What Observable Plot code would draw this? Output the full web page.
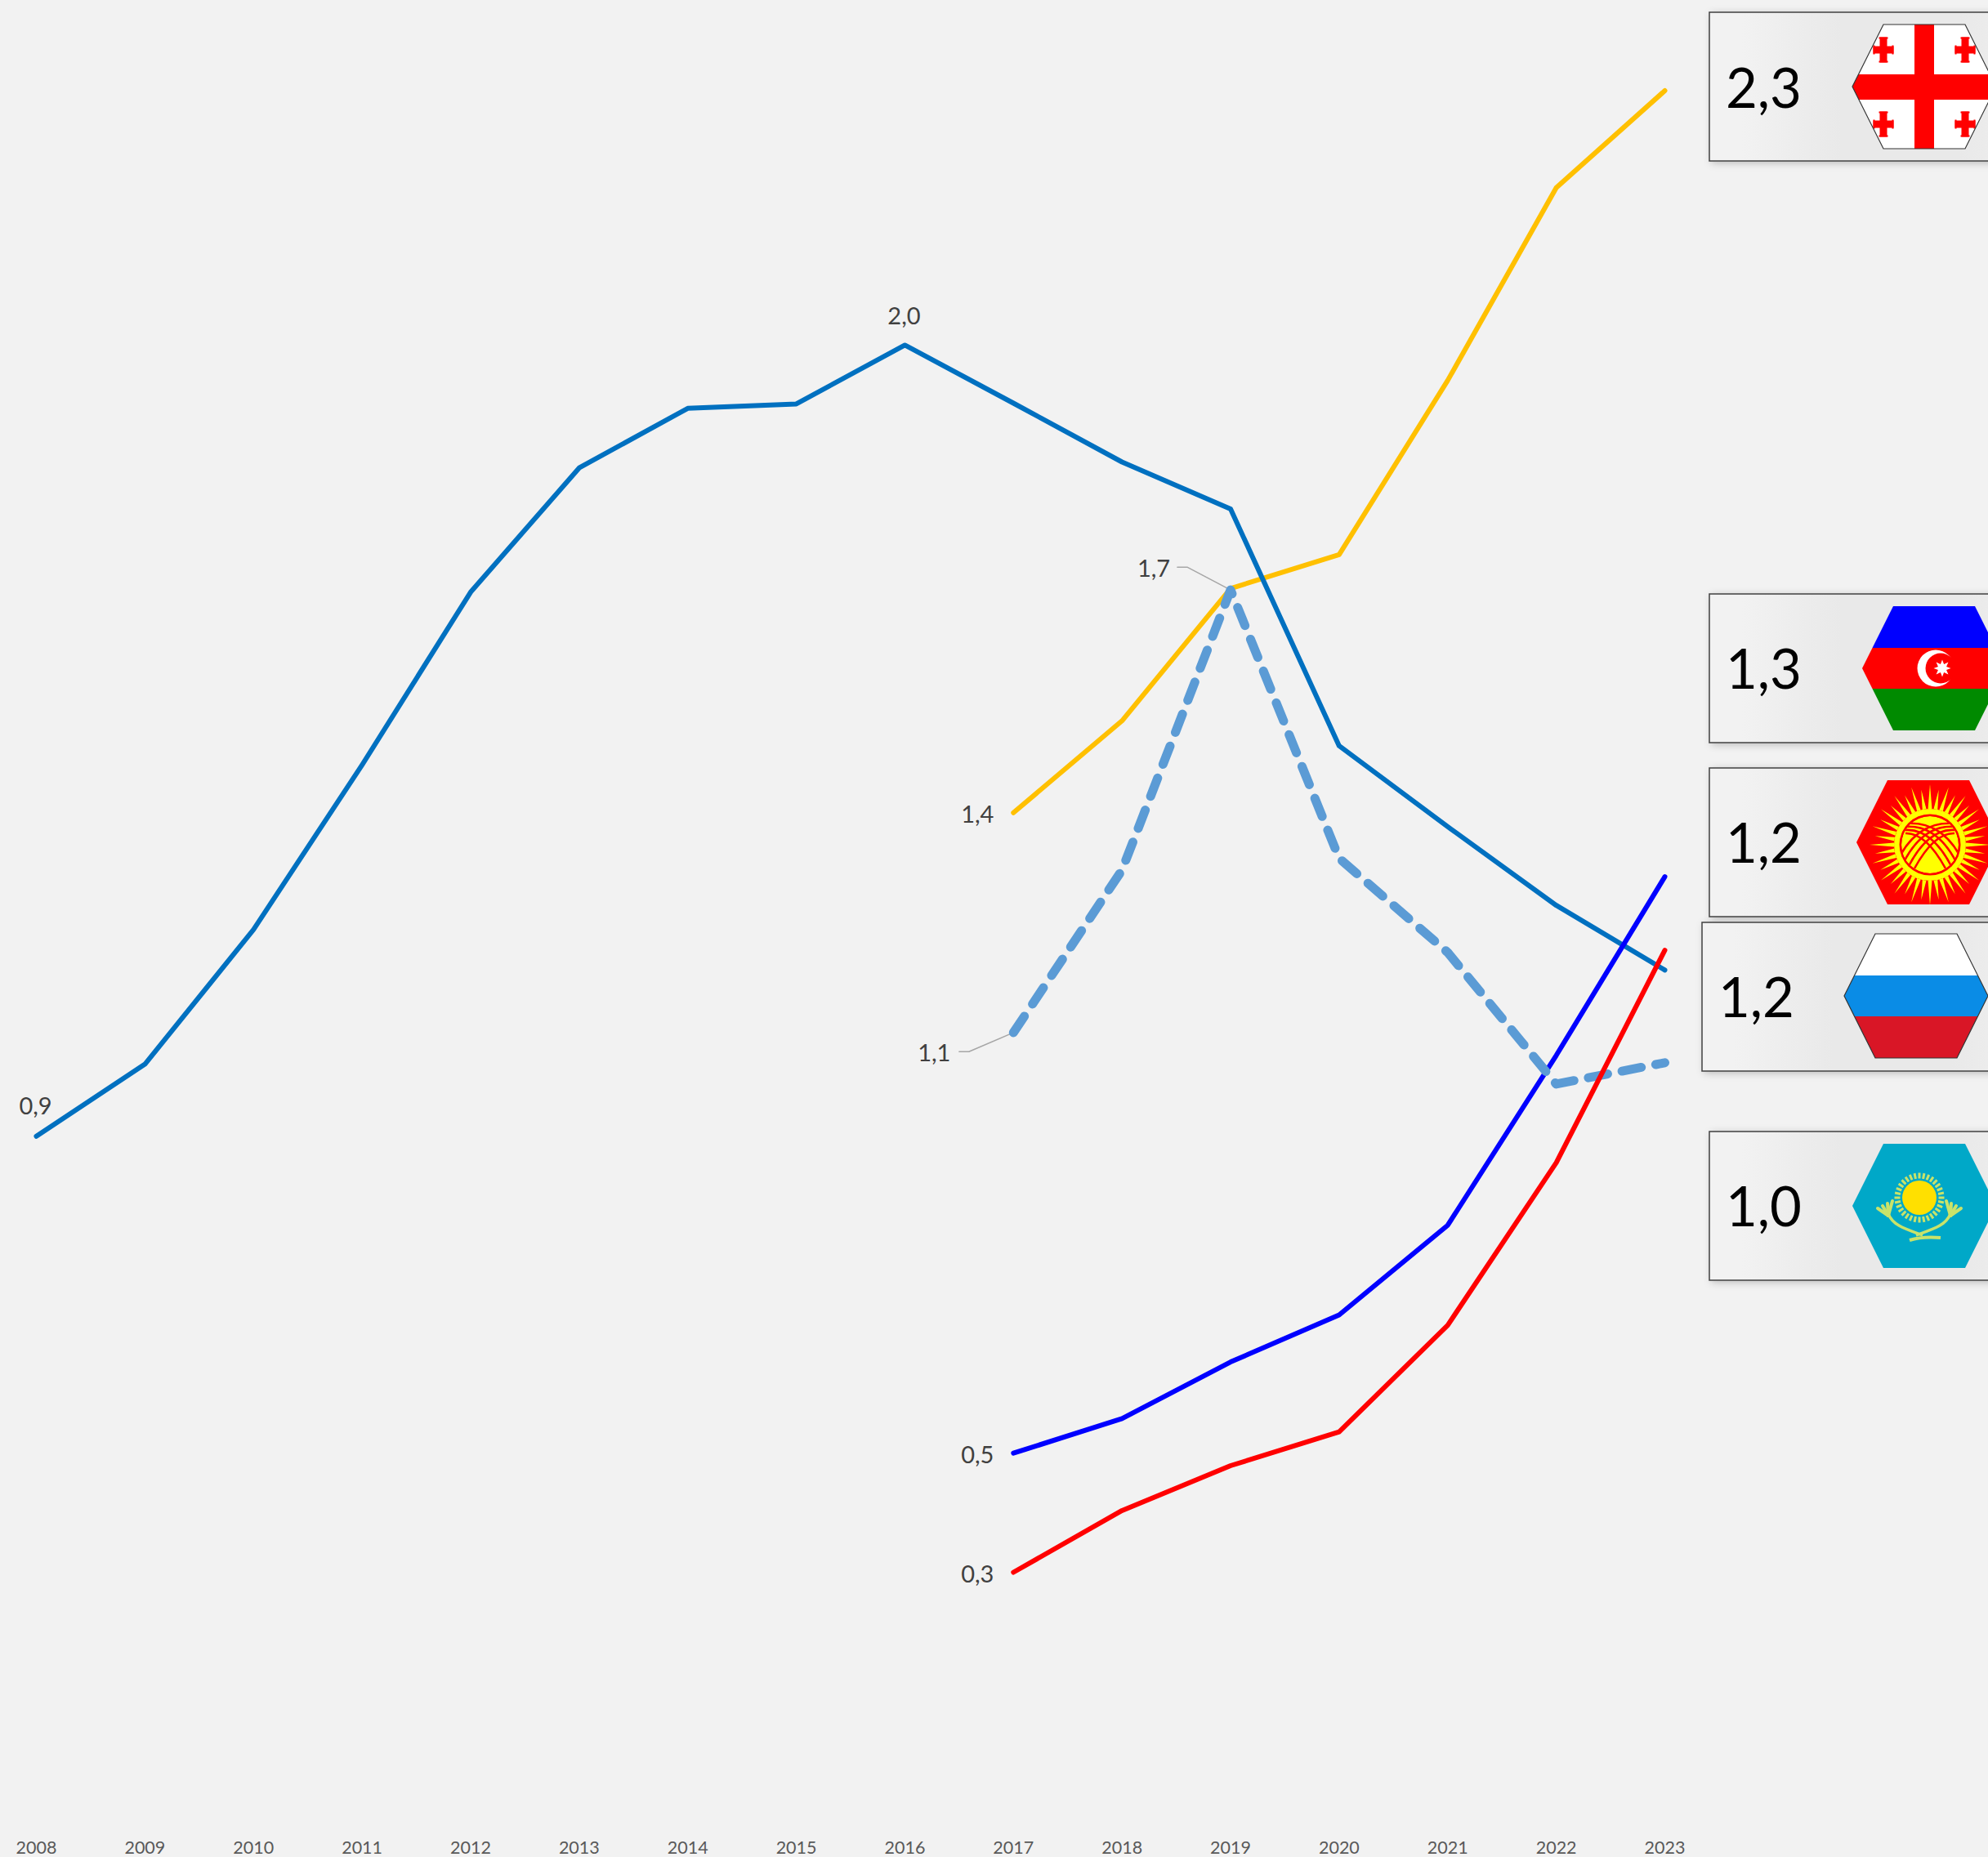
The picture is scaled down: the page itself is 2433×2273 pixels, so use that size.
<!DOCTYPE html>
<html>
<head>
<meta charset="utf-8">
<script src="https://cdn.jsdelivr.net/npm/d3@7"></script>
<script src="https://cdn.jsdelivr.net/npm/@observablehq/plot@0.6"></script>
<style>
  html, body { margin: 0; padding: 0; background: #f2f2f2; overflow: hidden; }
  #wrap { position: relative; width: 2433px; height: 2273px; }
  #wrap svg { display: block; }
  #cards { position: absolute; left: 0; top: 0; pointer-events: none; }
</style>
</head>
<body>
<div id="wrap"></div>
<script>
// ---- chart values -------------------------------------------------------
const yearsAll = [2008,2009,2010,2011,2012,2013,2014,2015,2016,2017,2018,2019,2020,2021,2022,2023];
const yearsLate = [2017,2018,2019,2020,2021,2022,2023];

const russia     = [0.913,1.011,1.194,1.418,1.653,1.822,1.903,1.909,1.989,1.910,1.830,1.766,1.444,1.334,1.227,1.139];
const georgia    = [1.353,1.478,1.658,1.704,1.941,2.203,2.335];
const kazakhstan = [1.054,1.275,1.656,1.291,1.163,0.984,1.013];
const azerbaijan = [0.482,0.529,0.606,0.670,0.792,1.023,1.266];
const kyrgyzstan = [0.320,0.404,0.465,0.511,0.656,0.877,1.166];

const leaderLow  = {years: [2017, 2016.59, 2016.50], values: [1.054, 1.028, 1.028]};
const leaderHigh = {years: [2019, 2018.60, 2018.51], values: [1.656, 1.687, 1.687]};

const cardValues = ["2,3", "1,3", "1,2", "1,2", "1,0"];
const cardNames  = ["georgia", "azerbaijan", "kyrgyzstan", "russia", "kazakhstan"];

const rows = (xs, ys) => xs.map((x, i) => ({x, y: ys[i]}));
const lineStyle = {x: "x", y: "y", strokeWidth: 6, strokeLinecap: "round", strokeLinejoin: "round"};
const labelFont = {fontFamily: "Lato", fontSize: 29, fill: "#404040", textAnchor: "middle", lineAnchor: "middle"};
const label = (year, value, text, dx, dy) =>
  Plot.text([{x: year, y: value}], {x: "x", y: "y", text: () => text, dx, dy, ...labelFont});
const leader = (l) => Plot.line(rows(l.years, l.values), {x: "x", y: "y", stroke: "#a6a6a6", strokeWidth: 1.5});

const chart = Plot.plot({
  width: 2433,
  height: 2273,
  marginLeft: 44,
  marginRight: 396,
  marginTop: 52,
  marginBottom: 61,
  style: {background: "#f2f2f2", overflow: "visible"},
  x: {domain: [2008, 2023]},
  y: {domain: [0, 2.4], axis: null},
  marks: [
    Plot.axisX({
      ticks: yearsAll, tickSize: 0, tickPadding: 41, tickFormat: d => String(d),
      fontFamily: "Lato", fontSize: 21.5, fill: "#595959", color: "#595959", label: null
    }),
    leader(leaderLow),
    leader(leaderHigh),
    Plot.line(rows(yearsLate, georgia), {...lineStyle, stroke: "#ffc000"}),
    Plot.line(rows(yearsAll, russia), {...lineStyle, stroke: "#0070c0"}),
    Plot.line(rows(yearsLate, azerbaijan), {...lineStyle, stroke: "#0000ff"}),
    Plot.line(rows(yearsLate, kazakhstan), {...lineStyle, stroke: "#5b9bd5", strokeWidth: 11, strokeDasharray: "24 18"}),
    Plot.line(rows(yearsLate, kyrgyzstan), {...lineStyle, stroke: "#ff0000"}),
    label(2008, russia[0], "0,9", -1, -36),
    label(2016, russia[8], "2,0", -1, -35),
    label(2017, georgia[0], "1,4", -44, 3),
    label(2017, azerbaijan[0], "0,5", -44, 3),
    label(2017, kyrgyzstan[0], "0,3", -44, 3),
    label(2017, kazakhstan[0], "1,1", -97, 26),
    label(2019, kazakhstan[2], "1,7", -94, -25)
  ]
});
document.getElementById("wrap").appendChild(chart);

// ---- value cards with hexagonal flags (annotation layer) ------------------
const layout = {
  georgia:    {box: [2092, 15],   hex: [2267, 30],   text: [2112, 132]},
  azerbaijan: {box: [2092, 727],  hex: [2279, 742],  text: [2112, 843]},
  kyrgyzstan: {box: [2092, 940],  hex: [2272, 955],  text: [2112, 1056]},
  russia:     {box: [2083, 1129], hex: [2257, 1143], text: [2103, 1245]},
  kazakhstan: {box: [2092, 1385], hex: [2267, 1400], text: [2112, 1501]}
};
const HW = 176, HH = 152, INSET = 38;
const hexPts = ([l, t]) => [[l, t + HH/2], [l + INSET, t], [l + HW - INSET, t], [l + HW, t + HH/2], [l + HW - INSET, t + HH], [l + INSET, t + HH]].map(p => p.join(",")).join(" ");
const rect = (x, y, w, h, f) => `<rect x="${x}" y="${y}" width="${w}" height="${h}" fill="${f}"/>`;

function star(cx, cy, n, R, r, fill) {
  const pts = d3.range(n * 2).map(i => {
    const a = Math.PI * i / n - Math.PI / 2, q = i % 2 ? r : R;
    return [cx + q * Math.cos(a), cy + q * Math.sin(a)].join(",");
  }).join(" ");
  return `<polygon points="${pts}" fill="${fill}"/>`;
}

const flags = {
  georgia([l, t]) {
    const bolnisi = (cx, cy) => rect(cx - 4.5, cy - 15.5, 9, 31, "#f00") + rect(cx - 12.5, cy - 4.5, 25, 9, "#f00")
      + rect(cx - 5.5, cy - 15.5, 11, 2, "#f00") + rect(cx - 5.5, cy + 13.5, 11, 2, "#f00")
      + rect(cx - 12.5, cy - 5.5, 2, 11, "#f00") + rect(cx + 10.5, cy - 5.5, 2, 11, "#f00");
    return rect(l, t, HW, HH, "#fff") + rect(2343, t, 24, HH, "#f00") + rect(l, t + 61, HW, 31, "#f00")
      + bolnisi(2305, 61) + bolnisi(2405, 61) + bolnisi(2305, 152) + bolnisi(2405, 152);
  },
  azerbaijan([l, t]) {
    const cy = t + HH / 2;
    return rect(l, t, HW, 51, "#0000ff") + rect(l, t + 51, HW, 50, "#ff0000") + rect(l, t + 101, HW, 51, "#008a00")
      + `<circle cx="2369" cy="${cy}" r="22.5" fill="#fff"/><circle cx="2375" cy="${cy}" r="18.5" fill="#f00"/>`
      + star(2377, cy, 8, 10.5, 5.5, "#fff");
  },
  kyrgyzstan([l, t]) {
    const cx = 2362, cy = 1034, Y = "#ffff00", R = "#ff0000";
    const rays = d3.range(40).map(i => {
      const a = 2 * Math.PI * i / 40, b = 0.055;
      const inner = 44, outer = i % 2 ? 68 : 74;
      const p = (r, t) => [cx + r * Math.cos(t), cy + r * Math.sin(t)].join(",");
      return `<polygon points="${p(inner, a - b)} ${p(outer, a)} ${p(inner, a + b)}" fill="${Y}"/>`;
    }).join("");
    const arcs = d3.range(4).map(k => {
      const o = k * 7;
      return `<path d="M${cx - 40 + o} ${cy + 20 + k * 3}Q${cx - 16 + o} ${cy - 30 + k * 5} ${cx + 30} ${cy - 26 + k * 4}" fill="none" stroke="${R}" stroke-width="2.6"/>`
        + `<path d="M${cx + 40 - o} ${cy + 20 + k * 3}Q${cx + 16 - o} ${cy - 30 + k * 5} ${cx - 30} ${cy - 26 + k * 4}" fill="none" stroke="${R}" stroke-width="2.6"/>`;
    }).join("");
    return rect(l, t, HW, HH, R) + rays
      + `<circle cx="${cx}" cy="${cy}" r="44" fill="${Y}"/><circle cx="${cx}" cy="${cy}" r="37.5" fill="${R}"/>`
      + `<clipPath id="sun"><circle cx="${cx}" cy="${cy}" r="35"/></clipPath>`
      + `<g clip-path="url(#sun)"><circle cx="${cx}" cy="${cy}" r="35" fill="${Y}"/>${arcs}</g>`;
  },
  russia([l, t]) {
    return rect(l, t, HW, 51, "#fff") + rect(l, t + 51, HW, 50, "#0a8ce6") + rect(l, t + 101, HW, 51, "#d91626");
  },
  kazakhstan([l, t]) {
    const cx = 2349, cy = 1466, G = "#c9e36a", S = "#ffe000";
    const rays = d3.range(32).map(i => {
      const a = 2 * Math.PI * i / 32;
      return `<line x1="${cx + 23.5 * Math.cos(a)}" y1="${cy + 23.5 * Math.sin(a)}" x2="${cx + 30.5 * Math.cos(a)}" y2="${cy + 30.5 * Math.sin(a)}" stroke="${G}" stroke-width="3"/>`;
    }).join("");
    const wing = s => `<path d="M${cx + s*38} ${cy + 20}C${cx + s*32} ${cy + 34} ${cx + s*18} ${cy + 38} ${cx - s*4} ${cy + 46}" fill="none" stroke="${G}" stroke-width="3.5"/>`
      + d3.range(4).map(k => `<line x1="${cx + s*38}" y1="${cy + 22}" x2="${cx + s*(33 + k*6)}" y2="${cy + 4 + k*3}" stroke="${G}" stroke-width="4" stroke-linecap="round"/>`).join("");
    return rect(l, t, HW, HH, "#00a8c8") + rays
      + `<circle cx="${cx}" cy="${cy}" r="21" fill="${S}"/>` + wing(-1) + wing(1)
      + `<path d="M${cx - 12} ${cy + 52}Q${cx + 4} ${cy + 47} ${cx + 26} ${cy + 49}" fill="none" stroke="${G}" stroke-width="4"/>`;
  }
};

const outlined = new Set(["georgia", "russia"]);
const cardMarkup = cardNames.map((name, i) => {
  const c = layout[name], pts = hexPts(c.hex);
  return `<g filter="url(#cardShadow)"><rect x="${c.box[0]}" y="${c.box[1]}" width="380" height="182" fill="#f2f2f2" stroke="#404040" stroke-width="1.5"/></g>`
    + `<rect x="${c.box[0] + 1}" y="${c.box[1] + 1}" width="380" height="180" fill="url(#cardTint)"/>`
    + `<text x="${c.text[0]}" y="${c.text[1]}" font-family="Lato" font-size="67" fill="#000">${cardValues[i]}</text>`
    + `<clipPath id="hex-${name}"><polygon points="${pts}"/></clipPath>`
    + `<g clip-path="url(#hex-${name})">${flags[name](c.hex)}</g>`
    + (outlined.has(name) ? `<polygon points="${pts}" fill="none" stroke="#333" stroke-width="1.2"/>` : "");
}).join("");

const overlay = document.createElementNS("http://www.w3.org/2000/svg", "svg");
overlay.setAttribute("id", "cards");
overlay.setAttribute("width", 2433);
overlay.setAttribute("height", 2273);
overlay.innerHTML = `<defs>
  <filter id="cardShadow" x="-10%" y="-20%" width="120%" height="140%">
    <feDropShadow dx="3" dy="2" stdDeviation="5" flood-color="#000" flood-opacity="0.22"/>
  </filter>
  <linearGradient id="cardTint" x1="0" x2="1" y1="0" y2="0">
    <stop offset="0.1" stop-color="#e8e8e8" stop-opacity="0"/>
    <stop offset="0.42" stop-color="#e8e8e8" stop-opacity="0.9"/>
    <stop offset="0.8" stop-color="#e8e8e8" stop-opacity="0.9"/>
    <stop offset="1" stop-color="#e8e8e8" stop-opacity="0.4"/>
  </linearGradient>
</defs>${cardMarkup}`;
document.getElementById("wrap").appendChild(overlay);
</script>
</body>
</html>
